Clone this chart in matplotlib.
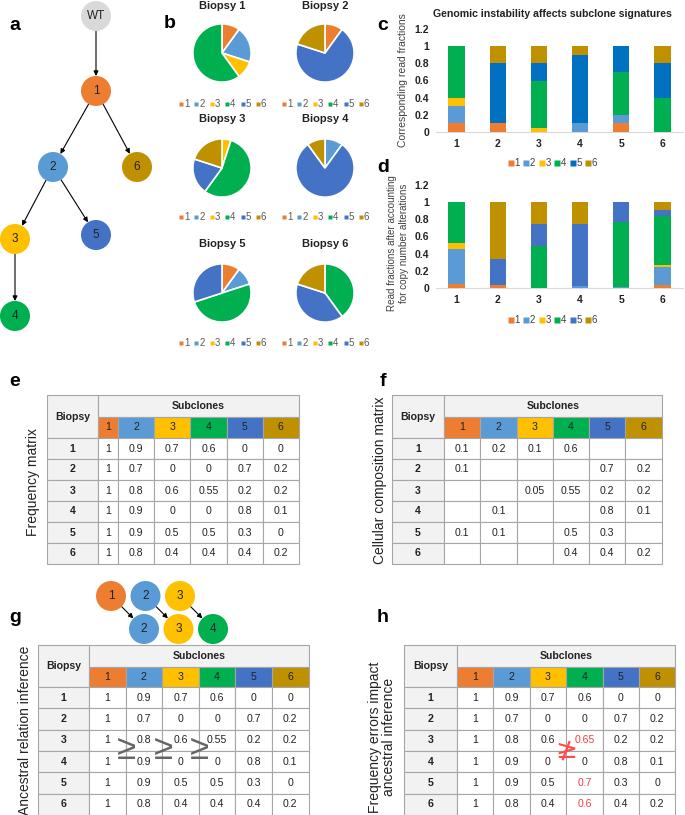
import matplotlib
matplotlib.use("Agg")
import matplotlib.pyplot as plt  # noqa: E402
from matplotlib.patches import Circle, Rectangle  # noqa: E402
import numpy as np  # noqa: E402

plt.rcParams["font.family"] = ["Liberation Sans", "DejaVu Sans"]

W, H = 685, 815  # canvas in pixels (dpi 100)

SUBCLONES = ["1", "2", "3", "4", "5", "6"]
BIOPSIES = ["1", "2", "3", "4", "5", "6"]
COLORS = ["#ED7D31", "#5B9BD5", "#FFC000", "#00B050", "#4472C4", "#BF9000"]
COLORS_C = ["#ED7D31", "#5B9BD5", "#FFC000", "#00B050", "#0070C0", "#BF9000"]

# cellular composition per biopsy (pies, panel c, table f)
COMP = [
    [0.1, 0.2, 0.1, 0.6, 0, 0],
    [0.1, 0, 0, 0, 0.7, 0.2],
    [0, 0, 0.05, 0.55, 0.2, 0.2],
    [0, 0.1, 0, 0, 0.8, 0.1],
    [0.1, 0.1, 0, 0.5, 0.3, 0],
    [0, 0, 0, 0.4, 0.4, 0.2],
]
# read fractions after copy number correction (panel d)
READ_CNA = [
    [0.05, 0.41, 0.06, 0.48, 0, 0],
    [0.03, 0, 0, 0, 0.31, 0.66],
    [0, 0, 0, 0.49, 0.25, 0.26],
    [0, 0.02, 0, 0, 0.72, 0.26],
    [0, 0.015, 0, 0.755, 0.23, 0],
    [0.03, 0.21, 0.03, 0.57, 0.07, 0.09],
]
# frequency matrix (tables e, g)
FREQ = [
    [1, 0.9, 0.7, 0.6, 0, 0],
    [1, 0.7, 0, 0, 0.7, 0.2],
    [1, 0.8, 0.6, 0.55, 0.2, 0.2],
    [1, 0.9, 0, 0, 0.8, 0.1],
    [1, 0.9, 0.5, 0.5, 0.3, 0],
    [1, 0.8, 0.4, 0.4, 0.4, 0.2],
]
# frequency matrix with errors (table h)
FREQ_ERR = [
    [1, 0.9, 0.7, 0.6, 0, 0],
    [1, 0.7, 0, 0, 0.7, 0.2],
    [1, 0.8, 0.6, 0.65, 0.2, 0.2],
    [1, 0.9, 0, 0, 0.8, 0.1],
    [1, 0.9, 0.5, 0.7, 0.3, 0],
    [1, 0.8, 0.4, 0.6, 0.4, 0.2],
]
ERR_CELLS = [(2, 3), (4, 3), (5, 3)]

# tree (panel a)
TREE_NODES = {"WT": (96, 16), "1": (96, 91), "2": (53, 167), "6": (137, 167),
              "3": (15, 239), "5": (96, 235), "4": (15, 316)}
TREE_EDGES = [("WT", "1"), ("1", "2"), ("1", "6"), ("2", "3"), ("2", "5"), ("3", "4")]

GRID = "#A6A6A6"
HEAD = "#F2F2F2"
TXT = "#222222"
RED = "#F23D3D"

fig = plt.figure(figsize=(W / 100, H / 100), dpi=100)
fig.patch.set_facecolor("white")


def fax(x, y, w, h):
    return fig.add_axes([x / W, 1 - (y + h) / H, w / W, h / H])


ax0 = fax(0, 0, W, H)
ax0.set_xlim(0, W)
ax0.set_ylim(H, 0)
ax0.axis("off")


def node(x, y, label, color, r=15):
    ax0.add_patch(Circle((x, y), r, facecolor=color, edgecolor="none", zorder=3))
    ax0.text(x, y, label, ha="center", va="center", fontsize=8.5, color=TXT, zorder=4)


def arrow(p, q, r=15):
    p, q = np.array(p, float), np.array(q, float)
    u = (q - p) / np.linalg.norm(q - p)
    ax0.annotate("", xy=q - r * u, xytext=p + r * u,
                 arrowprops=dict(arrowstyle="-|>", color="black", lw=0.8,
                                 mutation_scale=7, shrinkA=0, shrinkB=0), zorder=2)


# ── a: tree ──────────────────────────────────────────────────────────────────
for k, (x, y) in TREE_NODES.items():
    node(x, y, k, "#D9D9D9" if k == "WT" else COLORS[int(k) - 1])
for a, b in TREE_EDGES:
    arrow(TREE_NODES[a], TREE_NODES[b])

# ── b: pies ──────────────────────────────────────────────────────────────────
PIE_X = [222, 325]
PIE_ROWS = [(6, 53, 104), (119, 168, 217), (244, 293, 343)]
PIE_R = 30
for i, vals in enumerate(COMP):
    cx = PIE_X[i % 2]
    ty, cy, ly = PIE_ROWS[i // 2]
    ax0.text(cx, ty, f"Biopsy {BIOPSIES[i]}", ha="center", va="center",
             fontsize=8, fontweight="bold", color=TXT)
    ax = fax(cx - PIE_R, cy - PIE_R, 2 * PIE_R, 2 * PIE_R)
    v = [x for x in vals if x > 0]
    c = [COLORS[j] for j, x in enumerate(vals) if x > 0]
    ax.pie(v, colors=c, startangle=90, counterclock=False,
           wedgeprops=dict(edgecolor="white", linewidth=1.2))
    ax.set_xlim(-1.03, 1.03)
    ax.set_ylim(-1.03, 1.03)
    ax.axis("off")
    for j, s in enumerate(SUBCLONES):
        mx = cx - 41 + 15.4 * j
        ax0.plot(mx, ly, "s", color=COLORS[j], ms=2.6, mec="none")
        ax0.text(mx + 3, ly, s, ha="left", va="center", fontsize=7, color="#595959")


# ── c, d: stacked bars ───────────────────────────────────────────────────────
def bars(top, data, colors, legend_y):
    ax = fax(436, top, 247, 103)
    x = np.arange(1, len(BIOPSIES) + 1)
    bottom = np.zeros(len(BIOPSIES))
    arr = np.array(data)
    for j in range(len(SUBCLONES)):
        ax.bar(x, arr[:, j], bottom=bottom, width=0.4, color=colors[j], zorder=3)
        bottom += arr[:, j]
    ax.set_xlim(0.5, 6.5)
    ax.set_ylim(0, 1.2)
    ticks = np.arange(0, 1.21, 0.2)
    ax.set_yticks(ticks)
    ax.set_yticklabels([f"{t:g}" for t in ticks], fontsize=7.5, fontweight="bold", color=TXT)
    ax.set_xticks(x)
    ax.set_xticklabels(BIOPSIES, fontsize=7.5, fontweight="bold", color=TXT)
    ax.tick_params(length=0, pad=5)
    for sp in ("top", "right", "left"):
        ax.spines[sp].set_visible(False)
    ax.spines["bottom"].set_color("#D9D9D9")
    ax.patch.set_alpha(0)
    for j, s in enumerate(SUBCLONES):
        mx = 511 + 15.5 * j
        ax0.plot(mx, legend_y, "s", color=colors[j], ms=4.2, mec="none")
        ax0.text(mx + 3.5, legend_y, s, ha="left", va="center", fontsize=7, color="#404040")


bars(29, COMP, COLORS_C, 163)
ax0.text(552, 14, "Genomic instability affects subclone signatures", ha="center",
         va="center", fontsize=7.6, fontweight="bold", color=TXT)
ax0.text(403, 80, "Corresponding read fractions", rotation=90, ha="center",
         va="center", fontsize=7.5, color="#404040")
bars(185, READ_CNA, COLORS, 320)
ax0.text(398, 243, "Read fractions after accounting\nfor copy number alterations",
         rotation=90, ha="center", va="center", fontsize=7.1, color="#404040",
         linespacing=1.15)


# ── tables e–h ───────────────────────────────────────────────────────────────
def table(left, top, widths, vals, h1=22, h2=21, rh=21, blank_zero=False, red=()):
    xs = np.concatenate([[left], left + np.cumsum(widths)])
    kw = dict(edgecolor=GRID, linewidth=0.8)
    ax0.add_patch(Rectangle((xs[0], top), xs[1] - xs[0], h1 + h2, facecolor=HEAD, **kw))
    ax0.text((xs[0] + xs[1]) / 2, top + (h1 + h2) / 2, "Biopsy", ha="center",
             va="center", fontsize=7.6, fontweight="bold", color=TXT)
    ax0.add_patch(Rectangle((xs[1], top), xs[-1] - xs[1], h1, facecolor=HEAD, **kw))
    ax0.text((xs[1] + xs[-1]) / 2, top + h1 / 2, "Subclones", ha="center",
             va="center", fontsize=7.6, fontweight="bold", color=TXT)
    for j, s in enumerate(SUBCLONES):
        ax0.add_patch(Rectangle((xs[j + 1], top + h1), xs[j + 2] - xs[j + 1], h2,
                                facecolor=COLORS[j], **kw))
        ax0.text((xs[j + 1] + xs[j + 2]) / 2, top + h1 + h2 / 2, s, ha="center",
                 va="center", fontsize=7.6, color=TXT)
    y0 = top + h1 + h2
    for i, b in enumerate(BIOPSIES):
        y = y0 + i * rh
        ax0.add_patch(Rectangle((xs[0], y), xs[1] - xs[0], rh, facecolor=HEAD, **kw))
        ax0.text((xs[0] + xs[1]) / 2, y + rh / 2, b, ha="center", va="center",
                 fontsize=7.6, fontweight="bold", color=TXT)
        for j in range(len(SUBCLONES)):
            ax0.add_patch(Rectangle((xs[j + 1], y), xs[j + 2] - xs[j + 1], rh,
                                    facecolor="white", **kw))
            v = vals[i][j]
            if blank_zero and v == 0:
                continue
            ax0.text((xs[j + 1] + xs[j + 2]) / 2, y + rh / 2, f"{v:g}", ha="center",
                     va="center", fontsize=7.6,
                     color=RED if (i, j) in red else TXT)
    return xs, y0, rh


table(47, 395, [51, 20] + [36.2] * 5, FREQ)
table(392, 395, [52] + [36.3] * 6, COMP, blank_zero=True)
xg, yg, rg = table(38, 645, [51] + [36.6] * 6, FREQ, h2=20, rh=21.3)
xh, yh, rhh = table(404, 645, [53] + [36.4] * 6, FREQ_ERR, h2=20, rh=21.3, red=ERR_CELLS)

# ≥ signs between columns 1..4 at the row 3/4 boundary
for j in (2, 3, 4):
    ax0.text(xg[j] + 1, yg + 3 * rg - 1, "≥", ha="center", va="center", fontsize=25,
             color="#666666", zorder=5)
ax0.text(xh[4], yh + 3 * rhh, "≱", ha="center", va="center", fontsize=19,
         color="#FF4D4D", zorder=5, family=["DejaVu Sans"])

# small ancestry diagram above g
DIAG_TOP = ["1", "2", "3"]
DIAG_BOT = ["2", "3", "4"]
for k in range(3):
    pt = (111 + 34.5 * k, 596)
    pb = (144 + 34.5 * k, 629)
    node(*pt, DIAG_TOP[k], COLORS[int(DIAG_TOP[k]) - 1])
    node(*pb, DIAG_BOT[k], COLORS[int(DIAG_BOT[k]) - 1])
    arrow(pt, pb)

# y labels for tables
ax0.text(33, 482, "Frequency matrix", rotation=90, ha="center", va="center",
         fontsize=10, color=TXT)
ax0.text(380, 480, "Cellular composition matrix", rotation=90, ha="center",
         va="center", fontsize=10, color=TXT)
ax0.text(25, 730, "Ancestral relation inference", rotation=90, ha="center",
         va="center", fontsize=10, color=TXT)
ax0.text(382, 737, "Frequency errors impact\nancestral inference", rotation=90,
         ha="center", va="center", fontsize=10, color=TXT, linespacing=1.0)

# panel letters
for s, (x, y) in {"a": (15, 25), "b": (170, 24), "c": (383, 25), "d": (383, 167),
                  "e": (15, 381), "f": (383, 382), "g": (15, 618), "h": (383, 617)}.items():
    ax0.text(x, y, s, ha="center", va="center", fontsize=14, fontweight="bold",
             color="black")

fig.savefig("out.png", dpi=100, facecolor="white")
